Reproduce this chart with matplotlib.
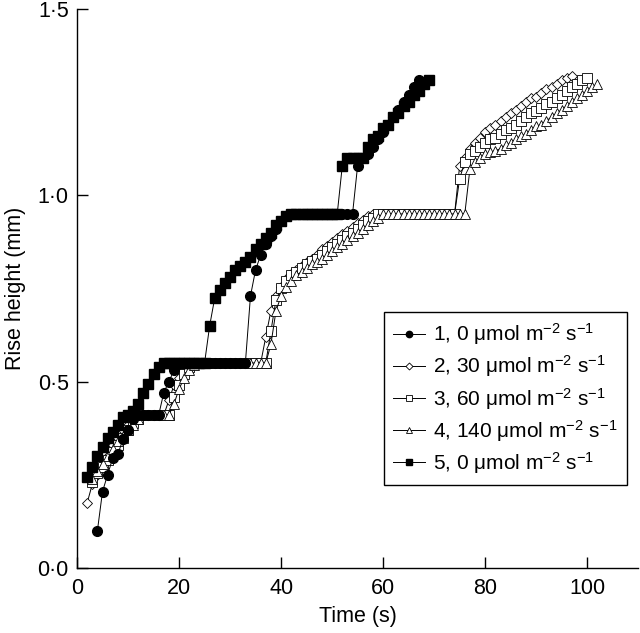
import matplotlib
matplotlib.use("Agg")
import matplotlib.pyplot as plt
from matplotlib.ticker import FixedLocator, FuncFormatter

plt.rcParams['font.family'] = ['Liberation Sans', 'DejaVu Sans']
plt.rcParams['mathtext.fontset'] = 'custom'
plt.rcParams['mathtext.rm'] = 'Liberation Sans'
plt.rcParams['mathtext.it'] = 'Liberation Sans:italic'
plt.rcParams['mathtext.bf'] = 'Liberation Sans:bold'

# ---------------- data ----------------
t1 = [4, 5, 6, 7, 8, 9, 10, 11, 12, 13, 14, 15, 16, 17, 18, 19, 20,
      21, 22, 23, 24, 25, 26, 27, 28, 29, 30, 31, 32, 33,
      34, 35, 36, 37, 38, 39, 40, 41,
      42, 43, 44, 45, 46, 47, 48, 49, 50, 51, 52, 53, 54,
      55, 56, 57, 58, 59, 60, 61, 62, 63, 64, 65, 66, 67]
h1 = [0.10, 0.205, 0.25, 0.295, 0.305, 0.345, 0.37, 0.40, 0.41, 0.41, 0.41, 0.41, 0.41, 0.47, 0.50, 0.53, 0.55,
      0.55, 0.55, 0.55, 0.55, 0.55, 0.55, 0.55, 0.55, 0.55, 0.55, 0.55, 0.55, 0.55,
      0.73, 0.80, 0.84, 0.87, 0.89, 0.91, 0.93, 0.945,
      0.95, 0.95, 0.95, 0.95, 0.95, 0.95, 0.95, 0.95, 0.95, 0.95, 0.95, 0.95, 0.95,
      1.08, 1.10, 1.11, 1.13, 1.15, 1.17, 1.19, 1.21, 1.23, 1.25, 1.27, 1.29, 1.31]

t2 = [2, 3, 4, 5, 6, 7, 8, 9, 10, 11, 12, 13, 14, 15, 16, 17,
      18, 19, 20, 21, 22, 23,
      24, 25, 26, 27, 28, 29, 30, 31, 32, 33, 34, 35, 36,
      37, 38, 39, 40, 41, 42, 43, 44, 45, 46, 47, 48, 49, 50, 51, 52, 53, 54, 55, 56, 57, 58,
      59, 60, 61, 62, 63, 64, 65, 66, 67, 68, 69, 70, 71, 72, 73, 74,
      75, 76, 77, 78, 79, 80, 81, 82, 83, 84, 85, 86, 87, 88, 89, 90, 91, 92, 93, 94, 95, 96, 97]
h2 = [0.175, 0.225, 0.25, 0.28, 0.30, 0.33, 0.35, 0.37, 0.385, 0.40, 0.41, 0.41, 0.41, 0.41, 0.41, 0.41,
      0.45, 0.49, 0.51, 0.53, 0.545, 0.55,
      0.55, 0.55, 0.55, 0.55, 0.55, 0.55, 0.55, 0.55, 0.55, 0.55, 0.55, 0.55, 0.55,
      0.62, 0.69, 0.73, 0.755, 0.775, 0.79, 0.80, 0.81, 0.82, 0.83, 0.84, 0.855, 0.865, 0.875, 0.885,
      0.895, 0.905, 0.915, 0.925, 0.935, 0.945, 0.95,
      0.95, 0.95, 0.95, 0.95, 0.95, 0.95, 0.95, 0.95, 0.95, 0.95, 0.95, 0.95, 0.95, 0.95, 0.95, 0.95,
      1.08, 1.10, 1.125, 1.14, 1.155, 1.17, 1.18, 1.19, 1.20, 1.21, 1.22, 1.23, 1.24, 1.25, 1.26,
      1.265, 1.275, 1.285, 1.29, 1.30, 1.31, 1.315, 1.32]

t3 = [3, 4, 5, 6, 7, 8, 9, 10, 11, 12, 13, 14, 15, 16, 17, 18,
      19, 20, 21, 22, 23,
      24, 25, 26, 27, 28, 29, 30, 31, 32, 33, 34, 35, 36, 37,
      38, 39, 40, 41, 42, 43, 44, 45, 46, 47, 48, 49, 50, 51, 52, 53, 54, 55, 56, 57, 58, 59,
      60, 61, 62, 63, 64, 65, 66, 67, 68, 69, 70, 71, 72, 73, 74,
      75, 76, 77, 78, 79, 80, 81, 82, 83, 84, 85, 86, 87, 88, 89, 90, 91, 92, 93, 94, 95, 96,
      97, 98, 99, 100]
h3 = [0.23, 0.255, 0.27, 0.29, 0.31, 0.33, 0.35, 0.37, 0.39, 0.40, 0.41, 0.41, 0.41, 0.41, 0.41, 0.41,
      0.46, 0.49, 0.52, 0.54, 0.55,
      0.55, 0.55, 0.55, 0.55, 0.55, 0.55, 0.55, 0.55, 0.55, 0.55, 0.55, 0.55, 0.55, 0.55,
      0.635, 0.72, 0.75, 0.77, 0.785, 0.795, 0.805, 0.815, 0.825, 0.83, 0.84, 0.85, 0.86, 0.87,
      0.88, 0.89, 0.90, 0.91, 0.92, 0.93, 0.94, 0.95,
      0.95, 0.95, 0.95, 0.95, 0.95, 0.95, 0.95, 0.95, 0.95, 0.95, 0.95, 0.95, 0.95, 0.95, 0.95,
      1.045, 1.09, 1.11, 1.12, 1.13, 1.14, 1.15, 1.155, 1.165, 1.175, 1.18, 1.19, 1.20, 1.21,
      1.22, 1.225, 1.235, 1.245, 1.25, 1.26, 1.27, 1.28, 1.29, 1.30, 1.31, 1.315]

t4 = [3, 4, 5, 6, 7, 8, 9, 10, 11, 12, 13, 14, 15, 16, 17, 18,
      19, 20, 21, 22, 23, 24,
      25, 26, 27, 28, 29, 30, 31, 32, 33, 34, 35, 36, 37,
      38, 39, 40, 41, 42, 43, 44, 45, 46, 47, 48, 49, 50, 51, 52, 53, 54, 55, 56, 57, 58, 59, 60,
      61, 62, 63, 64, 65, 66, 67, 68, 69, 70, 71, 72, 73, 74, 75, 76,
      77, 78, 79, 80, 81, 82, 83, 84, 85, 86, 87, 88, 89, 90, 91, 92, 93, 94, 95, 96, 97, 98,
      99, 100, 101, 102]
h4 = [0.24, 0.26, 0.28, 0.30, 0.32, 0.34, 0.355, 0.37, 0.385, 0.40, 0.41, 0.41, 0.41, 0.41, 0.41, 0.41,
      0.44, 0.48, 0.51, 0.53, 0.545, 0.55,
      0.55, 0.55, 0.55, 0.55, 0.55, 0.55, 0.55, 0.55, 0.55, 0.55, 0.55, 0.55, 0.55,
      0.60, 0.69, 0.73, 0.755, 0.77, 0.785, 0.795, 0.805, 0.815, 0.82, 0.83, 0.84, 0.85, 0.86,
      0.87, 0.88, 0.89, 0.90, 0.91, 0.92, 0.93, 0.94, 0.95,
      0.95, 0.95, 0.95, 0.95, 0.95, 0.95, 0.95, 0.95, 0.95, 0.95, 0.95, 0.95, 0.95, 0.95, 0.95, 0.95,
      1.07, 1.09, 1.10, 1.11, 1.115, 1.12, 1.125, 1.135, 1.14, 1.15, 1.16, 1.165, 1.175, 1.185,
      1.19, 1.20, 1.21, 1.22, 1.23, 1.24, 1.25, 1.26, 1.27, 1.28, 1.29, 1.30]

t5 = [2, 3, 4, 5, 6, 7, 8, 9, 10, 11, 12, 13, 14, 15, 16, 17,
      18, 19, 20, 21, 22, 23, 24, 25,
      26, 27, 28, 29, 30, 31, 32, 33, 34, 35, 36, 37, 38, 39, 40, 41,
      42, 43, 44, 45, 46, 47, 48, 49, 50, 51,
      52, 53, 54, 55, 56, 57, 58, 59, 60, 61, 62, 63, 64, 65, 66, 67, 68, 69]
h5 = [0.245, 0.27, 0.30, 0.325, 0.35, 0.365, 0.385, 0.405, 0.41, 0.42, 0.44, 0.47, 0.495, 0.52, 0.54, 0.55,
      0.55, 0.55, 0.55, 0.55, 0.55, 0.55, 0.55, 0.55,
      0.65, 0.725, 0.745, 0.765, 0.78, 0.80, 0.81, 0.82, 0.835, 0.855, 0.87, 0.885, 0.90, 0.92, 0.93, 0.945,
      0.95, 0.95, 0.95, 0.95, 0.95, 0.95, 0.95, 0.95, 0.95, 0.95,
      1.08, 1.10, 1.10, 1.10, 1.10, 1.13, 1.15, 1.16, 1.18, 1.19, 1.21, 1.22, 1.24, 1.25, 1.27, 1.28,
      1.30, 1.31]

labels = [r'1, 0 μmol m$^{-2}$ s$^{-1}$',
          r'2, 30 μmol m$^{-2}$ s$^{-1}$',
          r'3, 60 μmol m$^{-2}$ s$^{-1}$',
          r'4, 140 μmol m$^{-2}$ s$^{-1}$',
          r'5, 0 μmol m$^{-2}$ s$^{-1}$']

x_ticks = [0, 20, 40, 60, 80, 100]
y_ticks = [0.0, 0.5, 1.0, 1.5]

# ---------------- figure ----------------
fig = plt.figure(figsize=(6.4, 6.33), dpi=100)
ax = fig.add_axes([0.1203, 0.1027, 0.877, 0.8831])

lw = 0.7
ax.plot(t1, h1, '-', color='black', lw=lw, marker='o', ms=7.0, mfc='black', mec='black', label=labels[0], zorder=3)
ax.plot(t2, h2, '-', color='black', lw=lw, marker='D', ms=5.5, mfc='white', mec='black', mew=0.6, label=labels[1], zorder=2)
ax.plot(t3, h3, '-', color='black', lw=lw, marker='s', ms=6.5, mfc='white', mec='black', mew=0.6, label=labels[2], zorder=2)
ax.plot(t4, h4, '-', color='black', lw=lw, marker='^', ms=7.0, mfc='white', mec='black', mew=0.6, label=labels[3], zorder=2)
ax.plot(t5, h5, '-', color='black', lw=lw, marker='s', ms=6.5, mfc='black', mec='black', label=labels[4], zorder=3)

ax.set_xlim(0, 110)
ax.set_ylim(0, 1.5)
ax.xaxis.set_major_locator(FixedLocator(x_ticks))
ax.yaxis.set_major_locator(FixedLocator(y_ticks))
ax.yaxis.set_major_formatter(FuncFormatter(lambda v, p: f"{v:.1f}".replace('.', '·')))
ax.xaxis.set_major_formatter(FuncFormatter(lambda v, p: f"{v:.0f}"))

for s in ['top', 'right']:
    ax.spines[s].set_visible(False)
for s in ['left', 'bottom']:
    ax.spines[s].set_linewidth(1.0)

ax.tick_params(axis='both', direction='in', length=8, width=1.0, labelsize=15.5)
ax.tick_params(axis='y', pad=6)
ax.tick_params(axis='x', pad=7)

ax.set_xlabel('Time (s)', fontsize=15.5, labelpad=5)
ax.set_ylabel('Rise height (mm)', fontsize=15.5, labelpad=8)

leg = ax.legend(loc='upper left', bbox_to_anchor=(0.547, 0.458), fontsize=15,
                frameon=True, fancybox=False, edgecolor='black', framealpha=1,
                handlelength=1.5, handletextpad=0.4, labelspacing=0.3,
                borderpad=0.45, markerscale=0.65, borderaxespad=0)
leg.get_frame().set_linewidth(1.0)

fig.savefig('out.png', dpi=100)
